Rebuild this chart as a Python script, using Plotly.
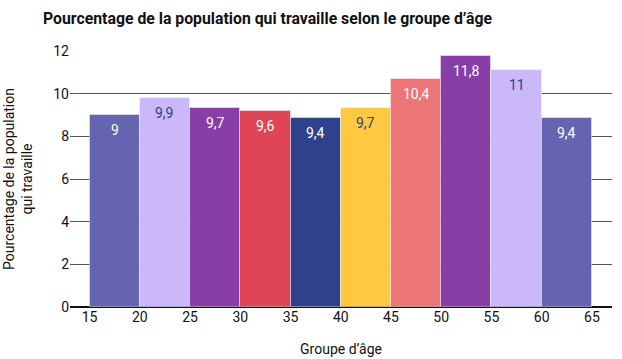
import plotly.graph_objects as go

# Data
age_starts = [15, 20, 25, 30, 35, 40, 45, 50, 55, 60]
bar_heights = [9.0, 9.8, 9.35, 9.2, 8.87, 9.35, 10.7, 11.76, 11.1, 8.87]
bar_labels = ["9", "9,9", "9,7", "9,6", "9,4", "9,7", "10,4", "11,8", "11", "9,4"]
bar_colors = ["#6464b0", "#cbb8f8", "#873ea6", "#e04555", "#30418c",
              "#fec841", "#ee7575", "#873ea6", "#cbb8f8", "#6464b0"]
label_colors = ["#ffffff", "#30418c", "#ffffff", "#ffffff", "#ffffff",
                "#30418c", "#ffffff", "#ffffff", "#30418c", "#ffffff"]
x_ticks = [15, 20, 25, 30, 35, 40, 45, 50, 55, 60, 65]
y_ticks = [0, 2, 4, 6, 8, 10, 12]
bin_width = 5

mids = [s + bin_width / 2 for s in age_starts]

fig = go.Figure()
fig.add_trace(go.Bar(
    x=mids, y=bar_heights, width=[bin_width] * len(mids),
    hoverinfo="skip",
    marker=dict(color=bar_colors, line=dict(color="rgba(255,255,255,0.45)", width=1)),
))

# value labels placed just below each bar top
for xm, h, lab, col in zip(mids, bar_heights, bar_labels, label_colors):
    fig.add_annotation(x=xm, y=h, text=lab, showarrow=False,
                       yanchor="top", yshift=-5,
                       font=dict(family="Roboto", size=14, color=col))

fig.update_layout(
    width=622, height=359,
    margin=dict(l=70, r=10, t=51, b=52, autoexpand=False),
    paper_bgcolor="white", plot_bgcolor="white",
    showlegend=False,
    bargap=0,
    font=dict(family="Roboto", color="#111111", size=13),
    title=dict(
        text="<b>Pourcentage de la population qui travaille selon le groupe d’âge</b>",
        x=43 / 622, xanchor="left", xref="container",
        y=1 - 18 / 359, yanchor="middle", yref="container",
        font=dict(family="Roboto", size=15.8, color="#111111"),
    ),
    xaxis=dict(
        range=[13.05, 67.0], tickmode="array", tickvals=x_ticks,
        ticktext=[str(v) for v in x_ticks],
        showgrid=False, zeroline=False, showline=False, ticks="",
        automargin=False,
        tickfont=dict(size=14, color="#111111"),
        title=dict(text="Groupe d’âge", font=dict(size=14, color="#111111"), standoff=20),
    ),
    yaxis=dict(
        range=[0, 12], tickmode="array", tickvals=y_ticks,
        ticktext=[str(v) for v in y_ticks],
        showgrid=True, gridcolor="#555555", gridwidth=1,
        zeroline=True, zerolinecolor="#111111", zerolinewidth=2,
        showline=False, ticks="", automargin=False,
        tickfont=dict(size=14, color="#111111"),
        title=dict(text="Pourcentage de la population<br>qui travaille",
                   font=dict(size=14, color="#111111"), standoff=17),
    ),
)

fig.write_html("out.html", config={"displayModeBar": False},
               post_script="document.body.style.margin='0';")
